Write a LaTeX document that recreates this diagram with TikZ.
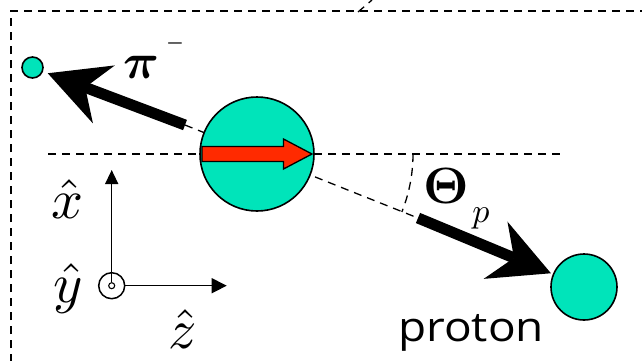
\documentclass[tikz,border=0pt]{standalone}
\usepackage{amsmath,amsbsy}
\usepackage{fontspec}
\newfontfamily\protonfont[FakeStretch=1.12]{Open Sans}
\DeclareFontShape{OML}{cmm}{m}{it}{<->cmmi10}{}
\DeclareFontShape{OML}{cmm}{b}{it}{<->cmmib10}{}
\DeclareFontShape{OMS}{cmsy}{m}{n}{<->cmsy10}{}
\DeclareFontShape{OMS}{cmsy}{b}{n}{<->cmbsy10}{}
\DeclareFontShape{OT1}{cmr}{m}{n}{<->cmr10}{}
\DeclareFontShape{OT1}{cmr}{bx}{n}{<->cmbx10}{}
\DeclareFontShape{OMX}{cmex}{m}{n}{<->cmex10}{}
\usetikzlibrary{arrows.meta}
\definecolor{mint}{HTML}{00E4BA}
\definecolor{arrowred}{HTML}{FF2A00}
\tikzset{
  particle/.style={circle, draw=black, fill=mint, line width=1.6pt, inner sep=0pt},
  dashline/.style={line width=1.3pt, dash pattern=on 8pt off 6pt},
  momentum/.style={line width=11pt, -{Stealth[length=60pt, width=62pt, inset=20pt, line width=0pt]}},
  axisarrow/.style={line width=1.5pt},
  lbl/.style={inner sep=0pt, anchor=base}
}
\begin{document}
\begin{tikzpicture}[x=1pt, y=-1pt]
\useasboundingbox (0,0) rectangle (642,360);
% frame
\draw[dashline] (11,362) -- (11,11) -- (645,11);
\draw[dashline] (358,12) -- (372,0);
% coordinates
\coordinate (hl) at (48,154);
\coordinate (hr) at (560,154);
\coordinate (pistart) at (185,125);
\coordinate (pstart) at (418,218);
\coordinate (arcstart) at (413,154);
% dashed reference lines
\draw[dashline] (hl) -- (hr);
\draw[dashline] (pistart) -- (pstart);
\draw[dashline] (arcstart) arc[start angle=0, end angle=21.8, radius=156];
% particles
\node[particle, minimum size=114pt] (lambda) at (257,154) {};
\node[particle, minimum size=21pt] (pion) at (32.5,67.5) {};
\node[particle, minimum size=66pt] (proton) at (584,287) {};
% momentum arrows
\draw[momentum, shorten >=5pt] (pistart) -- (pion);
\draw[momentum, shorten >=2pt] (pstart) -- (proton);
% spin arrow
\draw[fill=arrowred, line width=1.3pt, line join=miter]
  (202,146.5) -- (283.5,146.5) -- (283.5,139) -- (312,154) -- (283.5,169) -- (283.5,161.5) -- (202,161.5) -- cycle;
% axes
\node[circle, draw, line width=1.5pt, minimum size=26pt, inner sep=0pt] (axc) at (111.7,285.7) {};
\node[circle, draw, line width=1.1pt, minimum size=6pt, inner sep=0pt] (ydot) at (axc.center) {};
\coordinate (xtip) at (111.7,170);
\coordinate (ztip) at (226.7,285.7);
\draw[axisarrow, -{Triangle[length=14pt, width=13pt]}] (ydot.north) -- (xtip);
\draw[axisarrow, -{Triangle[length=15pt, width=15pt]}] (axc.east) -- (ztip);
% labels
\node[lbl, font=\fontsize{56}{60}\selectfont] (xl) at (68,218) {$\hat{x}$};
\node[lbl, font=\fontsize{56}{60}\selectfont] (yl) at (68,302) {$\hat{y}$};
\node[lbl, font=\fontsize{56}{60}\selectfont] (zl) at (182.5,348) {$\hat{z}$};
\node[lbl, font=\fontsize{50}{54}\selectfont] (pil) at (141,78) {$\boldsymbol{\pi}$};
\node[inner sep=0pt, font=\fontsize{20}{20}\selectfont] (minus) at (175,43) {$\boldsymbol{-}$};
\node[lbl, font=\fontsize{51}{54}\selectfont] (thl) at (446,203) {$\boldsymbol{\Theta}$};
\node[lbl, font=\fontsize{34}{36}\selectfont] (pl) at (481,222) {$p$};
\node[lbl, font=\protonfont\fontsize{41}{44}\selectfont] (prl) at (471,341.7) {proton};
\end{tikzpicture}
\end{document}
